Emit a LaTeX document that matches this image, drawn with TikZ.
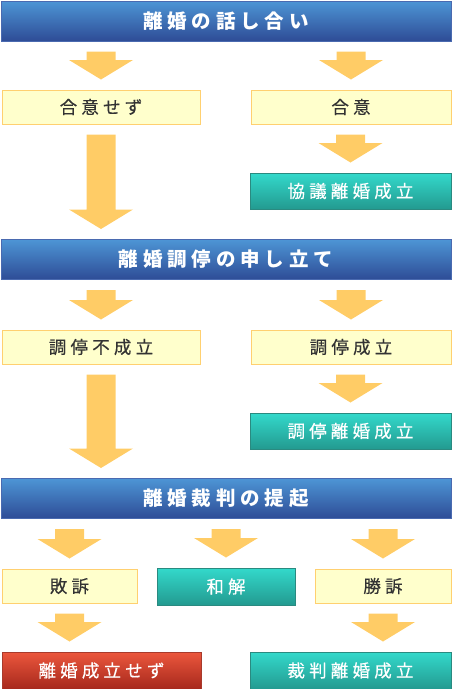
\documentclass[tikz,border=0pt]{standalone}
\usepackage{fontspec}
\setmainfont{Noto Sans CJK JP}[LetterSpace=24,FakeBold=0.4]
\newfontfamily\headfont{Noto Sans CJK JP}[LetterSpace=25]
\usetikzlibrary{calc}
\definecolor{arrowc}{HTML}{FFCC66}
\definecolor{yfill}{HTML}{FFFFCC}
\definecolor{ydraw}{HTML}{FFD070}
\definecolor{htop}{HTML}{4D95D5}
\definecolor{hbot}{HTML}{2E4C96}
\definecolor{hdraw}{HTML}{4A6AB0}
\definecolor{gtop}{HTML}{33D9CB}
\definecolor{gbot}{HTML}{239A90}
\definecolor{gdraw}{HTML}{2A8A80}
\definecolor{rtop}{HTML}{EC573D}
\definecolor{rbot}{HTML}{A6281C}
\definecolor{rdraw}{HTML}{A83A2C}
\definecolor{tdark}{HTML}{333333}
\tikzset{
  base/.style={inner sep=0pt, line width=1pt},
  header/.style={base, draw=hdraw, top color=htop, bottom color=hbot, minimum width=450pt, minimum height=40pt, text=white, font=\headfont\bfseries\fontsize{19.5}{19.5}\selectfont},
  ybox/.style={base, draw=ydraw, fill=yfill, minimum height=34pt, text=tdark, font=\fontsize{17.5}{17.5}\selectfont},
  gbox/.style={base, draw=gdraw, top color=gtop, bottom color=gbot, minimum height=36pt, text=white, font=\fontsize{17.5}{17.5}\selectfont},
  rbox/.style={base, draw=rdraw, top color=rtop, bottom color=rbot, minimum height=37pt, text=white, font=\fontsize{17.5}{17.5}\selectfont},
  arrowfill/.style={fill=arrowc}
}
\newcommand\barrow[2]{%
  \fill[arrowfill] let \p1=(#1), \p2=(#2) in
    (\x2-14.5pt,\y1-10pt) -- (\x2+14.5pt,\y1-10pt) -- (\x2+14.5pt,\y2+29.5pt)
    -- (\x2+32pt,\y2+29.5pt) -- (\x2,\y2+10pt) -- (\x2-32pt,\y2+29.5pt)
    -- (\x2-14.5pt,\y2+29.5pt) -- cycle;}
\begin{document}
\begin{tikzpicture}[x=1pt,y=-1pt]
\useasboundingbox (0,0) rectangle (452,689);
% headers
\node[header] (h1) at (226,21) {離婚の話し合い};
\node[header] (h2) at (226,259.5) {離婚調停の申し立て};
\node[header] (h3) at (226,498.5) {離婚裁判の提起};
% row 1
\node[ybox, minimum width=198pt] (n1) at (101,107) {合意せず};
\node[ybox, minimum width=200pt] (a1) at (351,107) {合意};
\node[gbox, minimum width=201pt] (g1) at (350.5,191) {協議離婚成立};
% row 2
\node[ybox, minimum width=198pt] (n2) at (101,347) {調停不成立};
\node[ybox, minimum width=200pt] (a2) at (351,347) {調停成立};
\node[gbox, minimum width=201pt] (g2) at (350.5,431) {調停離婚成立};
% row 3
\node[ybox, minimum width=135pt] (lose) at (69.5,586) {敗訴};
\node[gbox, minimum width=138pt, minimum height=37pt] (wa) at (226,586.5) {和解};
\node[ybox, minimum width=136pt] (win) at (383,586) {勝訴};
\node[rbox, minimum width=199pt] (fail) at (101.5,670.5) {離婚成立せず};
\node[gbox, minimum width=201pt, minimum height=37pt] (g3) at (350.5,670.5) {裁判離婚成立};
% arrows
\barrow{h1.south}{n1.north}
\barrow{h1.south}{a1.north}
\barrow{a1.south}{g1.north}
\barrow{n1.south}{h2.north -| n1.south}
\barrow{h2.south}{n2.north}
\barrow{h2.south}{a2.north}
\barrow{a2.south}{g2.north}
\barrow{n2.south}{h3.north -| n2.south}
\barrow{h3.south}{lose.north}
\barrow{h3.south}{wa.north}
\barrow{h3.south}{win.north}
\barrow{lose.south}{fail.north -| lose.south}
\barrow{win.south}{g3.north -| win.south}
\end{tikzpicture}
\end{document}
